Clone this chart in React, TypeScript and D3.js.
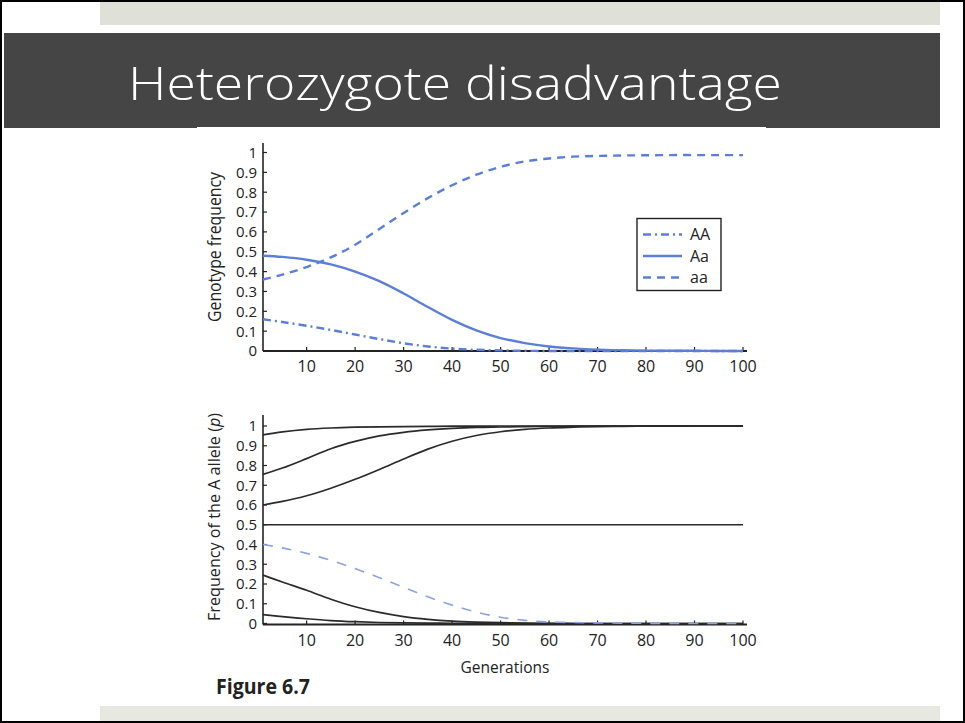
import React from "react";
import * as d3 from "d3";

// Generations at which the curves are sampled
const generations = [1, 5, 10, 15, 20, 25, 30, 35, 40, 45, 50, 55, 60, 65, 70, 75, 80, 85, 90, 95, 100];

// Genotype frequencies (upper panel)
const genoAA = [0.16, 0.146, 0.127, 0.106, 0.083, 0.06, 0.039, 0.023, 0.012, 0.006, 0.003, 0.001, 0, 0, 0, 0, 0, 0, 0, 0, 0];
const genoAa = [0.48, 0.474, 0.46, 0.436, 0.4, 0.352, 0.29, 0.222, 0.157, 0.104, 0.065, 0.04, 0.023, 0.013, 0.007, 0.004, 0.002, 0.001, 0.001, 0, 0];
const genoaa = [0.36, 0.385, 0.423, 0.472, 0.535, 0.615, 0.695, 0.77, 0.835, 0.888, 0.928, 0.955, 0.97, 0.979, 0.983, 0.985, 0.986, 0.987, 0.987, 0.987, 0.987];

// Frequency of the A allele for different starting values (lower panel)
const p095 = [0.955, 0.97, 0.983, 0.99, 0.994, 0.996, 0.997, 0.998, 0.999, 0.999, 1, 1, 1, 1, 1, 1, 1, 1, 1, 1, 1];
const p075 = [0.755, 0.787, 0.835, 0.885, 0.922, 0.95, 0.968, 0.98, 0.988, 0.993, 0.995, 0.997, 0.998, 0.999, 0.999, 1, 1, 1, 1, 1, 1];
const p060 = [0.6, 0.618, 0.647, 0.685, 0.73, 0.78, 0.833, 0.883, 0.923, 0.952, 0.971, 0.983, 0.99, 0.994, 0.997, 0.998, 0.999, 0.999, 1, 1, 1];
const p050 = [0.5, 0.5, 0.5, 0.5, 0.5, 0.5, 0.5, 0.5, 0.5, 0.5, 0.5, 0.5, 0.5, 0.5, 0.5, 0.5, 0.5, 0.5, 0.5, 0.5, 0.5];
const p040 = [0.4, 0.383, 0.355, 0.32, 0.278, 0.232, 0.183, 0.135, 0.093, 0.058, 0.032, 0.016, 0.008, 0.005, 0.003, 0.002, 0.001, 0, 0, 0, 0];
const p025 = [0.245, 0.21, 0.168, 0.123, 0.085, 0.056, 0.035, 0.021, 0.012, 0.007, 0.004, 0.002, 0.001, 0, 0, 0, 0, 0, 0, 0, 0];
const p005 = [0.045, 0.035, 0.024, 0.015, 0.009, 0.005, 0.003, 0.002, 0.001, 0, 0, 0, 0, 0, 0, 0, 0, 0, 0, 0, 0];

const xTicks = [10, 20, 30, 40, 50, 60, 70, 80, 90, 100];
const yTicks = [0, 0.1, 0.2, 0.3, 0.4, 0.5, 0.6, 0.7, 0.8, 0.9, 1];
const legendLabels = ["AA", "Aa", "aa"];

const W = 965;
const H = 723;
const BLUE = "#5b7fd8";
const BLUE_LIGHT = "#8ea2e6";
const INK = "#222";
const TICK_FONT = "'Open Sans', 'Noto Sans', sans-serif";

const x = d3.scaleLinear().domain([1, 100]).range([263, 743]);
const yTop = d3.scaleLinear().domain([0, 1]).range([351, 152.5]);
const yBot = d3.scaleLinear().domain([0, 1]).range([623.5, 426]);

function pathFor(values: number[], y: d3.ScaleLinear<number, number>) {
  const line = d3
    .line<number>()
    .x((_, i) => x(generations[i]))
    .y((v) => y(v))
    .curve(d3.curveCatmullRom.alpha(0.5));
  return line(values) || "";
}

function Axes({ y, top, bottom }: { y: d3.ScaleLinear<number, number>; top: number; bottom: number }) {
  const x0 = x(1);
  return (
    <g>
      <line x1={x0} x2={x0} y1={top} y2={bottom} stroke={INK} strokeWidth={1.6} />
      <line x1={x0} x2={747} y1={bottom} y2={bottom} stroke={INK} strokeWidth={1.8} />
      {yTicks.map((t) => (
        <g key={"y" + t}>
          <line x1={x0} x2={x0 + 4} y1={y(t)} y2={y(t)} stroke={INK} strokeWidth={1.2} />
          <text
            x={x0 - 6}
            y={y(t)}
            dy="0.36em"
            textAnchor="end"
            fontFamily={TICK_FONT}
            fontSize={15}
            fill={INK}
          >
            {d3.format("~g")(t)}
          </text>
        </g>
      ))}
      {xTicks.map((t) => (
        <g key={"x" + t}>
          <line x1={x(t)} x2={x(t)} y1={bottom} y2={bottom - 4} stroke={INK} strokeWidth={1.2} />
          <text
            x={x(t)}
            y={bottom + 21}
            textAnchor="middle"
            fontFamily={TICK_FONT}
            fontSize={16}
            fill={INK}
          >
            {t}
          </text>
        </g>
      ))}
    </g>
  );
}

export default function App() {
  const genoSeries = [
    { values: genoAA, dash: "8,4,2,4" },
    { values: genoAa, dash: "" },
    { values: genoaa, dash: "8,6" },
  ];
  const alleleSolid = [p095, p075, p060, p050, p025, p005];

  return (
    <svg
      width={W}
      height={H}
      viewBox={`0 0 ${W} ${H}`}
      style={{ position: "absolute", left: 0, top: 0, background: "#fff" }}
    >
      {/* slide frame */}
      <rect x={0} y={0} width={W} height={H} fill="#fff" />
      <rect x={100} y={0} width={840} height={25} fill="#dfe0d7" />
      <rect x={100} y={706} width={840} height={17} fill="#e8e8e3" />
      <rect x={4} y={33} width={936} height={95} fill="#454545" />
      <rect x={197} y={127} width={569} height={4} fill="#fff" />
      <text
        x={128}
        y={100}
        fontFamily="'Open Sans', 'DejaVu Sans', sans-serif"
        fontWeight={300}
        fontSize={46}
        fill="#fff"
        textLength={654}
        lengthAdjust="spacingAndGlyphs"
      >
        Heterozygote disadvantage
      </text>
      <rect x={1} y={1} width={W - 2} height={H - 2} fill="none" stroke="#000" strokeWidth={2} />

      {/* upper panel: genotype frequencies */}
      <Axes y={yTop} top={143} bottom={351} />
      {genoSeries.map((s, i) => (
        <path
          key={"g" + i}
          d={pathFor(s.values, yTop)}
          fill="none"
          stroke={BLUE}
          strokeWidth={2.4}
          strokeDasharray={s.dash || undefined}
        />
      ))}
      <text
        transform="translate(221,247) rotate(-90)"
        textAnchor="middle"
        fontFamily={TICK_FONT}
        fontSize={17.5}
        fill={INK}
        textLength={150}
        lengthAdjust="spacingAndGlyphs"
      >
        Genotype frequency
      </text>

      {/* legend */}
      <rect x={637} y={218.5} width={84} height={72} fill="#fff" stroke={INK} strokeWidth={1.4} />
      {legendLabels.map((lab, i) => {
        const ly = 234.5 + i * 21.5;
        return (
          <g key={lab}>
            <line
              x1={643}
              x2={682}
              y1={ly}
              y2={ly}
              stroke={BLUE}
              strokeWidth={2.4}
              strokeDasharray={genoSeries[i].dash || undefined}
            />
            <text x={690} y={ly} dy="0.36em" fontFamily={TICK_FONT} fontSize={16} fill={INK}>
              {lab}
            </text>
          </g>
        );
      })}

      {/* lower panel: allele frequency */}
      <Axes y={yBot} top={415} bottom={624.5} />
      {alleleSolid.map((vals, i) => (
        <path key={"p" + i} d={pathFor(vals, yBot)} fill="none" stroke="#2a2a2a" strokeWidth={1.7} />
      ))}
      <path
        d={pathFor(p040, yBot)}
        fill="none"
        stroke={BLUE_LIGHT}
        strokeWidth={1.6}
        strokeDasharray="10,9"
      />
      <text
        transform="translate(220,517) rotate(-90)"
        textAnchor="middle"
        fontFamily={TICK_FONT}
        fontSize={16}
        fill={INK}
        textLength={208}
        lengthAdjust="spacingAndGlyphs"
      >
        Frequency of the A allele (<tspan fontStyle="italic">p</tspan>)
      </text>
      <text x={505} y={673} textAnchor="middle" fontFamily={TICK_FONT} fontSize={15.5} fill={INK}>
        Generations
      </text>
      <text
        x={216}
        y={694}
        fontFamily={TICK_FONT}
        fontWeight={700}
        fontSize={22}
        fill={INK}
        textLength={94}
        lengthAdjust="spacingAndGlyphs"
      >
        Figure 6.7
      </text>
    </svg>
  );
}
